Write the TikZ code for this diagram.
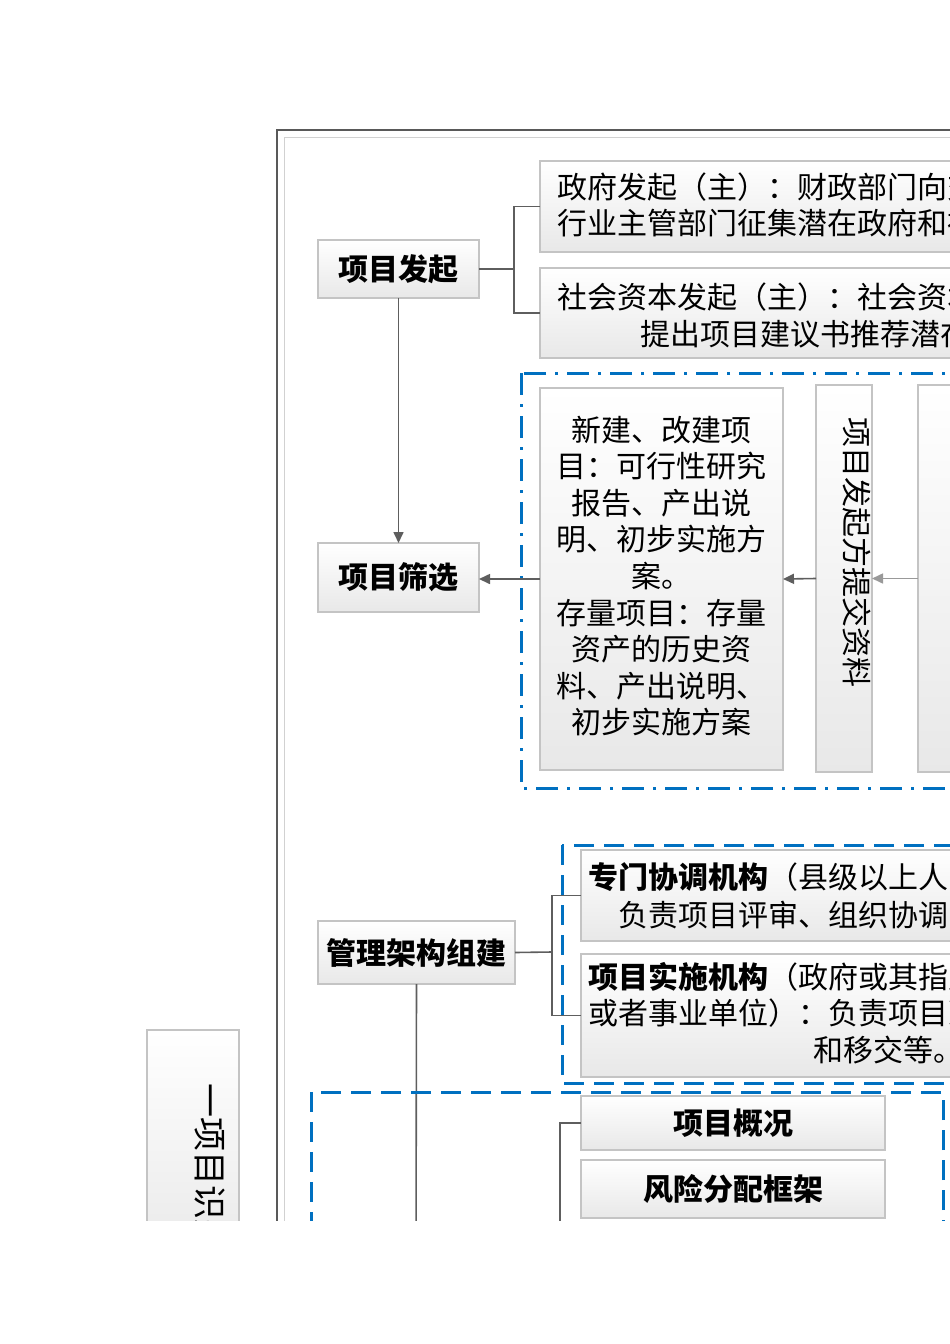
\documentclass[tikz,border=0pt]{standalone}
\usepackage{fontspec}
\setmainfont{Noto Sans CJK SC}
\usetikzlibrary{arrows.meta}
\definecolor{lineblue}{HTML}{0070C0}
\definecolor{connc}{HTML}{5E5E5E}
\definecolor{boxedge}{HTML}{C4C4C4}
\tikzset{
 box/.style={draw=boxedge, line width=1.5pt, top color=white, bottom color=black!9, inner sep=0pt, outer sep=0pt, anchor=north west},
 titletext/.style={font=\fontsize{30}{36}\selectfont\bfseries},
 body/.style={font=\fontsize{30}{37}\selectfont, inner sep=0pt, anchor=west},
 conn/.style={draw=connc, line width=1.6pt},
 arr/.style={conn, -{Triangle[length=11pt,width=10pt]}},
 dashdotbox/.style={draw=lineblue, line width=3pt, dash pattern=on 22pt off 9pt on 3pt off 9pt},
 dashbox/.style={draw=lineblue, line width=3pt, dash pattern=on 20pt off 10pt},
}
\begin{document}
\begin{tikzpicture}[x=1pt,y=-1pt]
\useasboundingbox (0,0) rectangle (950,1344);
\fill[white] (0,0) rectangle (950,1344);
\begin{scope}
\clip (0,0) rectangle (950,1220);
% page frame
\draw[line width=2.5pt, draw=black!65] (277,1260) -- (277,130) -- (990,130);
\draw[line width=1pt, draw=black!18] (284,1260) -- (284,137) -- (990,137);

% left box
\node[box, minimum width=92pt, minimum height=240pt] (shibie) at (147,1030) {};
\node[font=\fontsize{34}{34}\selectfont, rotate=-90, anchor=west, inner sep=0pt] (shibiet) at (210,1083) {一项目识别};

% project initiation
\node[box, minimum width=161pt, minimum height=58pt] (faqi) at (318,240) {};
\node[titletext] (faqit) at (faqi.center) {项目发起};
\node[box, minimum width=450pt, minimum height=91pt] (zf) at (540,161) {};
\node[body] (zf1) at (557,187) {政府发起（主）：财政部门向交};
\node[body] (zf2) at (557,223) {行业主管部门征集潜在政府和社};
\node[box, minimum width=450pt, minimum height=90pt] (sh) at (540,268) {};
\node[body] (sh1) at (557,297) {社会资本发起（主）：社会资本};
\node[body] (sh2) at (640,334) {提出项目建议书推荐潜在};
\coordinate (fj) at (514,269);
\draw[conn] (faqi.east) -- (fj);
\draw[conn] (zf.west) -| (fj) |- (sh.west);

% screening
\node[box, minimum width=161pt, minimum height=69pt] (shaixuan) at (318,543) {};
\node[titletext] (shaixuant) at (shaixuan.center) {项目筛选};
\draw[arr] (faqi.south) -- (shaixuan.north);

\draw[dashdotbox] (521,373) rectangle (1000,788);
\node[box, minimum width=243pt, minimum height=382pt] (xinjian) at (540,388) {};
\node[font=\fontsize{30}{36.6}\selectfont, align=center, inner sep=0pt] (xinjiant) at (661,576) {新建、改建项\\目：可行性研究\\报告、产出说\\明、初步实施方\\案。\\存量项目：存量\\资产的历史资\\料、产出说明、\\初步实施方案};
\node[box, minimum width=56pt, minimum height=387pt] (tijiao) at (816,385) {};
\node[font=\fontsize{30}{30}\selectfont, rotate=-90, inner sep=0pt] (tijiaot) at (857,552) {项目发起方提交资料};
\node[box, minimum width=100pt, minimum height=387pt] (third) at (918,385) {};
\draw[arr] (xinjian.west) -- (xinjian.west -| shaixuan.east);
\draw[arr] (tijiao.west) -- (xinjian.east);
\draw[arr, draw=black!40] (third.west) -- (tijiao.east);

% management structure
\draw[dashbox] (562,845) rectangle (1000,1083);
\node[box, minimum width=420pt, minimum height=91pt] (zhuanmen) at (581,850) {};
\node[body] (zm1) at (588,877) {{\bfseries 专门协调机构}（县级以上人民};
\node[body] (zm2) at (618,915) {负责项目评审、组织协调};
\node[box, minimum width=420pt, minimum height=123pt] (shishi) at (581,954) {};
\node[body] (ss1) at (588,977) {{\bfseries 项目实施机构}（政府或其指定};
\node[body] (ss2) at (588,1013) {或者事业单位）：负责项目准};
\node[body] (ss3) at (813,1050) {和移交等。};
\node[box, minimum width=197pt, minimum height=63pt] (guanli) at (318,921) {};
\node[titletext] (guanlit) at (guanli.center) {管理架构组建};
\coordinate (gj) at (552,952);
\draw[conn] (guanli.east) -- (gj);
\draw[conn] (zhuanmen.west) -| (gj) |- (shishi.west);
\coordinate (gdown) at (416,1250);
\draw[conn] (guanli.south) -- (gdown);

% implementation plan
\draw[dashbox] (311,1092) rectangle (943,1300);
\node[box, minimum width=304pt, minimum height=54pt] (gaikuang) at (581,1096) {};
\node[titletext] (gaikuangt) at (gaikuang.center) {项目概况};
\node[box, minimum width=304pt, minimum height=58pt] (fengxian) at (581,1160) {};
\node[titletext] (fengxiant) at (fengxian.center) {风险分配框架};
\coordinate (gk) at (560,1250);
\draw[conn] (gaikuang.west) -| (gk);
\end{scope}
\end{tikzpicture}
\end{document}
